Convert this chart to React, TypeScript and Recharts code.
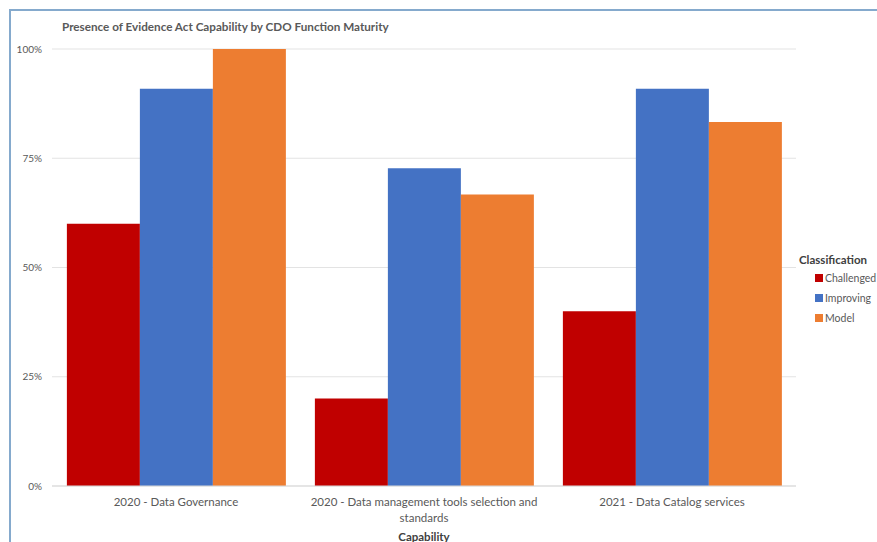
import React from 'react';
import {
  BarChart, Bar, XAxis, YAxis, CartesianGrid, Label,
} from 'recharts';

const capabilities = [
  '2020 - Data Governance',
  '2020 - Data management tools selection and standards',
  '2021 - Data Catalog services',
];
const challenged = [60, 20, 40];
const improving = [90.9, 72.7, 90.9];
const model = [100, 66.7, 83.3];
const yTicks = [0, 25, 50, 75, 100];

const seriesInfo = [
  { key: 'Challenged', color: '#c00000' },
  { key: 'Improving', color: '#4472c4' },
  { key: 'Model', color: '#ed7d31' },
];

const data = capabilities.map((name, i) => ({
  name,
  Challenged: challenged[i],
  Improving: improving[i],
  Model: model[i],
}));

const FONT = 'Lato, "Open Sans", sans-serif';
const GREY = '#595959';

// greedy word wrap by character count
const wrapLabel = (s: string, max = 42) => {
  const lines: string[] = [];
  let cur = '';
  s.split(' ').forEach((w) => {
    const next = cur ? `${cur} ${w}` : w;
    if (next.length > max && cur) {
      lines.push(cur);
      cur = w;
    } else {
      cur = next;
    }
  });
  if (cur) lines.push(cur);
  return lines;
};

const CategoryTick = (props: any) => {
  const { x, y, payload } = props;
  const lines = wrapLabel(payload.value);
  return (
    <text x={x} y={y + 12} textAnchor="middle" fontSize={11.5} fontFamily={FONT} fill={GREY}>
      {lines.map((l, i) => (
        <tspan key={i} x={x} dy={i === 0 ? 0 : 16}>{l}</tspan>
      ))}
    </text>
  );
};

// legend sits outside the chart so it doesn't eat plot space
const ClassLegend = () => (
  <div style={{ position: 'absolute', left: 799, top: 253, fontFamily: FONT, color: GREY }}>
    <div style={{ fontWeight: 700, fontSize: 11.5, marginBottom: 2, color: '#404040' }}>Classification</div>
    {seriesInfo.map((s) => (
      <div key={s.key} style={{ display: 'flex', alignItems: 'center', height: 20, paddingLeft: 16, fontSize: 10.5 }}>
        <span style={{ width: 8, height: 8, background: s.color, marginRight: 2, display: 'inline-block' }} />
        {s.key}
      </div>
    ))}
  </div>
);

export default function App() {
  return (
    <div style={{ position: 'absolute', left: 0, top: 0, width: 877, height: 542, background: '#fff', overflow: 'hidden' }}>
      <div
        style={{
          position: 'absolute', left: 9, top: 9, width: 900, height: 560,
          border: '2px solid #85aacd', boxSizing: 'border-box',
        }}
      />
      <div
        style={{
          position: 'absolute', left: 62, top: 19, fontFamily: FONT, fontWeight: 700,
          fontSize: 11.7, color: GREY, whiteSpace: 'nowrap',
        }}
      >
        Presence of Evidence Act Capability by CDO Function Maturity
      </div>
      <div style={{ position: 'absolute', left: 0, top: 0 }}>
        <BarChart
          width={877}
          height={542}
          data={data}
          margin={{ top: 49, right: 81, left: 8, bottom: 0 }}
          barCategoryGap="6%"
          barGap={0}
        >
          <CartesianGrid vertical={false} stroke="#e3e3e3" />
          <XAxis
            dataKey="name"
            height={56}
            axisLine={{ stroke: '#d9d9d9' }}
            tickLine={false}
            tick={<CategoryTick />}
            interval={0}
          >
            <Label
              value="Capability"
              position="insideBottom"
              offset={1}
              style={{ fontFamily: FONT, fontWeight: 700, fontSize: 11.5, fill: '#404040' }}
            />
          </XAxis>
          <YAxis
            width={44}
            domain={[0, 100]}
            ticks={yTicks}
            tickFormatter={(v: number) => `${v}%`}
            axisLine={false}
            tickLine={false}
            tickMargin={4}
            tick={{ fontSize: 10, fontFamily: FONT, fill: GREY }}
          />
          {seriesInfo.map((s) => (
            <Bar key={s.key} dataKey={s.key} fill={s.color} isAnimationActive={false} />
          ))}
        </BarChart>
      </div>
      <ClassLegend />
    </div>
  );
}
